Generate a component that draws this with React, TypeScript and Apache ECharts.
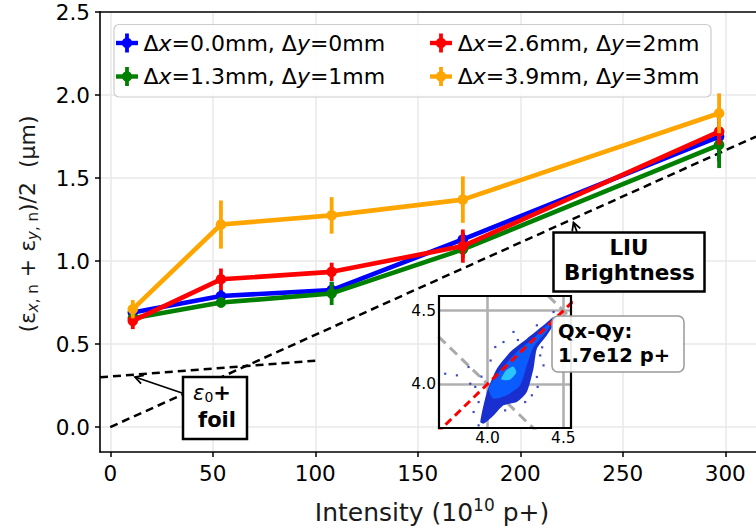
import React, { useEffect, useRef } from 'react';
import * as echarts from 'echarts';

// ---------------- data ----------------
const intensity = [11, 54, 108, 172, 297];

const blueVals = [0.69, 0.79, 0.825, 1.13, 1.75];
const blueErr = [0.03, 0.04, 0.05, 0.04, 0.15];
const greenVals = [0.655, 0.75, 0.805, 1.07, 1.7];
const greenErr = [0.03, 0.03, 0.07, 0.05, 0.14];
const redVals = [0.64, 0.89, 0.935, 1.09, 1.78];
const redErr = [0.05, 0.065, 0.055, 0.1, 0.08];
const orangeVals = [0.71, 1.22, 1.275, 1.37, 1.89];
const orangeErr = [0.055, 0.145, 0.11, 0.14, 0.12];

const legendDx = ['0.0', '1.3', '2.6', '3.9'];
const legendDy = ['0', '1', '2', '3'];

// reference lines (intensity, emittance)
const liuLine = [[0, 0.0], [315, 1.75]];
const foilLine = [[-5, 0.3], [100, 0.4]];

// inset (tune diagram Qx-Qy)
const tuneDiagonal = [[3.6, 3.6], [4.7, 4.7]];
const resonanceLow = [[3.6, 4.4], [4.4, 3.6]];
const resonanceHigh = [[4.4, 4.6], [4.6, 4.4]];
const cloudBand = [
  [3.952, 3.741], [3.996, 3.945], [4.062, 4.105], [4.149, 4.218], [4.259, 4.309],
  [4.369, 4.4], [4.435, 4.457], [4.457, 4.445], [4.391, 4.332], [4.325, 4.241],
  [4.303, 4.105], [4.259, 3.945], [4.193, 3.877], [4.105, 3.855], [4.04, 3.786],
  [3.974, 3.73],
];
const cloudCore = [
  [4.007, 3.968], [4.084, 4.093], [4.193, 4.218], [4.325, 4.332], [4.424, 4.434],
  [4.402, 4.377], [4.303, 4.252], [4.259, 4.127], [4.215, 3.991], [4.127, 3.923],
  [4.04, 3.9],
];
const cloudPeak = [[4.09, 4.03], [4.12, 4.09], [4.17, 4.12], [4.19, 4.08], [4.15, 4.03]];
const cloudSpeckle = [
  [3.721, 4.07], [3.798, 4.059], [3.886, 4.002], [3.919, 3.98], [3.875, 4.116],
  [4.051, 4.252], [4.105, 4.286], [4.171, 4.355], [4.325, 4.4], [4.435, 4.491],
  [4.347, 4.195], [4.369, 4.127], [4.325, 4.048], [4.292, 3.923], [3.941, 3.877],
  [3.908, 3.809], [3.941, 3.718], [4.248, 3.877], [4.116, 3.82], [4.02, 4.16],
  [4.2, 4.3], [4.36, 4.25], [3.96, 4.05], [4.33, 3.98],
];

// ---------------- style ----------------
const FONT = 'DejaVu Sans';
const BLUE = '#0000ff';
const GREEN = '#008000';
const RED = '#ff0000';
const ORANGE = '#ffa500';

const groups = [
  { name: 'blue', color: BLUE, vals: blueVals, err: blueErr, dx: legendDx[0], dy: legendDy[0], col: 0, row: 0 },
  { name: 'green', color: GREEN, vals: greenVals, err: greenErr, dx: legendDx[1], dy: legendDy[1], col: 0, row: 1 },
  { name: 'red', color: RED, vals: redVals, err: redErr, dx: legendDx[2], dy: legendDy[2], col: 1, row: 0 },
  { name: 'orange', color: ORANGE, vals: orangeVals, err: orangeErr, dx: legendDx[3], dy: legendDy[3], col: 1, row: 1 },
];

function arrowHead(tail: number[], tip: number[], len = 9, ang = 0.5) {
  const dx = tail[0] - tip[0];
  const dy = tail[1] - tip[1];
  const d = Math.hypot(dx, dy);
  const ux = dx / d;
  const uy = dy / d;
  const rot = (a: number) => [
    tip[0] + len * (ux * Math.cos(a) - uy * Math.sin(a)),
    tip[1] + len * (ux * Math.sin(a) + uy * Math.cos(a)),
  ];
  return [rot(ang), tip, rot(-ang)];
}

function buildOption() {
  const series: any[] = [];

  series.push({
    type: 'line', xAxisIndex: 0, yAxisIndex: 0, data: liuLine, symbol: 'none', silent: true,
    lineStyle: { color: '#000', width: 2.5, type: [8, 5] }, z: 1,
  });
  series.push({
    type: 'line', xAxisIndex: 0, yAxisIndex: 0, data: foilLine, symbol: 'none', silent: true,
    lineStyle: { color: '#000', width: 2.5, type: [8, 5] }, z: 1,
  });

  groups.forEach((g, gi) => {
    series.push({
      type: 'custom', xAxisIndex: 0, yAxisIndex: 0, silent: true, z: 2 + gi,
      data: intensity.map((x, i) => [x, g.vals[i] - g.err[i], g.vals[i] + g.err[i]]),
      encode: { x: 0, y: [1, 2] },
      renderItem: (params: any, api: any) => {
        const p1 = api.coord([api.value(0), api.value(1)]);
        const p2 = api.coord([api.value(0), api.value(2)]);
        return {
          type: 'line',
          shape: { x1: p1[0], y1: p1[1], x2: p2[0], y2: p2[1] },
          style: { stroke: g.color, lineWidth: 3.8 },
        };
      },
    });
    series.push({
      type: 'line', name: g.name, xAxisIndex: 0, yAxisIndex: 0, z: 2 + gi,
      data: intensity.map((x, i) => [x, g.vals[i]]),
      symbol: 'circle', symbolSize: 10.5, showSymbol: true,
      lineStyle: { color: g.color, width: 4.6 },
      itemStyle: { color: g.color },
    });
  });

  // inset
  const polyItem = (pts: number[][], fill: string, api: any) => ({
    type: 'polygon',
    shape: { points: pts.map((p) => api.coord(p)), smooth: 0.2 },
    style: { fill },
  });
  series.push({
    type: 'custom', xAxisIndex: 1, yAxisIndex: 1, silent: true, z: 6,
    data: [[4.1, 4.1]],
    renderItem: (params: any, api: any) => ({
      type: 'group',
      children: [
        polyItem(cloudBand, '#1a2fd0', api),
        polyItem(cloudCore, '#0a5cff', api),
        polyItem(cloudPeak, '#2cc4ff', api),
      ],
    }),
  });
  series.push({
    type: 'scatter', xAxisIndex: 1, yAxisIndex: 1, silent: true, z: 6,
    data: cloudSpeckle, symbol: 'rect', symbolSize: 2.2,
    itemStyle: { color: '#1020b0' },
  });
  series.push({
    type: 'line', xAxisIndex: 1, yAxisIndex: 1, data: resonanceLow, symbol: 'none', silent: true, z: 5,
    lineStyle: { color: '#aaaaaa', width: 3, type: [10, 6] },
  });
  series.push({
    type: 'line', xAxisIndex: 1, yAxisIndex: 1, data: resonanceHigh, symbol: 'none', silent: true, z: 5,
    lineStyle: { color: '#aaaaaa', width: 3, type: [10, 6] },
  });
  series.push({
    type: 'line', xAxisIndex: 1, yAxisIndex: 1, data: tuneDiagonal, symbol: 'none', silent: true, z: 7,
    lineStyle: { color: '#ff0000', width: 3, type: [8, 5] },
  });

  const tickFont = { fontFamily: FONT, fontSize: 21.5, color: '#000' };

  // graphic elements
  const graphic: any[] = [];
  // legend
  const legX = [127, 441];
  const legTextX = [143.5, 457.7];
  const legY = [43, 76.5];
  graphic.push({
    type: 'rect', z: 50, silent: true,
    shape: { x: 114, y: 24.5, width: 597, height: 72.5, r: 5 },
    style: { fill: 'rgba(255,255,255,0.85)', stroke: '#cccccc', lineWidth: 1.2 },
  });
  groups.forEach((g) => {
    const cx = legX[g.col];
    const cy = legY[g.row];
    graphic.push({
      type: 'line', z: 51, silent: true,
      shape: { x1: cx - 11, y1: cy, x2: cx + 11, y2: cy },
      style: { stroke: g.color, lineWidth: 4.4 },
    });
    graphic.push({
      type: 'line', z: 51, silent: true,
      shape: { x1: cx, y1: cy - 9.5, x2: cx, y2: cy + 9.5 },
      style: { stroke: g.color, lineWidth: 3.8 },
    });
    graphic.push({
      type: 'circle', z: 52, silent: true,
      shape: { cx, cy, r: 5.2 },
      style: { fill: g.color },
    });
    graphic.push({
      type: 'text', z: 52, silent: true, x: legTextX[g.col], y: cy,
      style: {
        text: `Δ{i|x}=${g.dx}mm, Δ{i|y}=${g.dy}mm`,
        fontFamily: FONT, fontSize: 22, fill: '#000', align: 'left', verticalAlign: 'middle',
        rich: { i: { fontFamily: FONT, fontSize: 22, fontStyle: 'italic', fill: '#000' } },
      },
    });
  });

  // y axis title
  graphic.push({
    type: 'text', silent: true, x: 27, y: 224, rotation: Math.PI / 2,
    style: {
      text: '({e|ε}{si|x}{s|,\u00a0n}\u00a0+\u00a0{e|ε}{si|y}{s|,\u00a0n})/2\u00a0\u00a0(μm)',
      fontFamily: FONT, fontSize: 22, fill: '#1a1a1a', align: 'center', verticalAlign: 'middle',
      rich: {
        e: { fontFamily: FONT, fontSize: 22, fill: '#1a1a1a' },
        si: { fontFamily: FONT, fontSize: 15, fontStyle: 'italic', fill: '#1a1a1a', padding: [11, 0, 0, 0] },
        s: { fontFamily: FONT, fontSize: 15, fill: '#1a1a1a', padding: [11, 0, 0, 0] },
      },
    },
  });
  // x axis title
  graphic.push({
    type: 'text', silent: true, x: 432, y: 512,
    style: {
      text: 'Intensity (10{sup|10} p+)',
      fontFamily: FONT, fontSize: 25, fill: '#1a1a1a', align: 'center', verticalAlign: 'middle',
      rich: { sup: { fontFamily: FONT, fontSize: 17, fill: '#1a1a1a', padding: [0, 0, 14, 0] } },
    },
  });

  // epsilon0 + foil annotation
  graphic.push({
    type: 'rect', z: 30, silent: true,
    shape: { x: 183, y: 377, width: 64, height: 62 },
    style: { fill: '#fff', stroke: '#000', lineWidth: 2.5 },
  });
  graphic.push({
    type: 'text', z: 31, silent: true, x: 212, y: 393,
    style: {
      text: '{e|ε}{s|0}{b|+}', fontFamily: FONT, fontSize: 21, fill: '#000', align: 'center', verticalAlign: 'middle',
      rich: {
        e: { fontFamily: FONT, fontSize: 21, fontStyle: 'italic', fill: '#000' },
        s: { fontFamily: FONT, fontSize: 14, fill: '#000', padding: [8, 0, 0, 0] },
        b: { fontFamily: FONT, fontSize: 21, fontWeight: 'bold', fill: '#000' },
      },
    },
  });
  graphic.push({
    type: 'text', z: 31, silent: true, x: 217, y: 420,
    style: { text: 'foil', fontFamily: FONT, fontSize: 21, fontWeight: 'bold', fill: '#000', align: 'center', verticalAlign: 'middle' },
  });
  const foilTail = [182, 393];
  const foilTip = [135, 377];
  graphic.push({
    type: 'line', z: 29, silent: true,
    shape: { x1: foilTail[0], y1: foilTail[1], x2: foilTip[0], y2: foilTip[1] },
    style: { stroke: '#000', lineWidth: 1.8 },
  });
  graphic.push({
    type: 'polyline', z: 29, silent: true,
    shape: { points: arrowHead(foilTail, foilTip) },
    style: { stroke: '#000', lineWidth: 1.8, fill: null },
  });

  // LIU Brightness annotation
  graphic.push({
    type: 'rect', z: 30, silent: true,
    shape: { x: 553.5, y: 232.5, width: 151, height: 59 },
    style: { fill: '#fff', stroke: '#000', lineWidth: 2.5 },
  });
  graphic.push({
    type: 'text', z: 31, silent: true, x: 629, y: 247,
    style: { text: 'LIU', fontFamily: FONT, fontSize: 21.5, fontWeight: 'bold', fill: '#000', align: 'center', verticalAlign: 'middle' },
  });
  graphic.push({
    type: 'text', z: 31, silent: true, x: 629.5, y: 272,
    style: { text: 'Brightness', fontFamily: FONT, fontSize: 21.5, fontWeight: 'bold', fill: '#000', align: 'center', verticalAlign: 'middle' },
  });
  const liuTail = [577, 232];
  const liuTip = [573.5, 222.5];
  graphic.push({
    type: 'line', z: 29, silent: true,
    shape: { x1: liuTail[0], y1: liuTail[1], x2: liuTip[0], y2: liuTip[1] },
    style: { stroke: '#000', lineWidth: 1.8 },
  });
  graphic.push({
    type: 'polyline', z: 29, silent: true,
    shape: { points: arrowHead(liuTail, liuTip) },
    style: { stroke: '#000', lineWidth: 1.8, fill: null },
  });

  // inset frame
  graphic.push({
    type: 'rect', z: 40, silent: true,
    shape: { x: 439, y: 296, width: 132, height: 132 },
    style: { fill: null, stroke: '#000', lineWidth: 2.2 },
  });
  // Qx-Qy box
  graphic.push({
    type: 'rect', z: 45, silent: true,
    shape: { x: 552, y: 316, width: 132, height: 56, r: 6 },
    style: { fill: 'rgba(255,255,255,0.92)', stroke: '#999999', lineWidth: 1.5 },
  });
  graphic.push({
    type: 'text', z: 46, silent: true, x: 558, y: 343.5,
    style: {
      text: 'Qx-Qy:\n1.7e12 p+', fontFamily: FONT, fontSize: 19.5, fontWeight: 'bold', fill: '#000',
      align: 'left', verticalAlign: 'middle', lineHeight: 23.5,
    },
  });

  return {
    animation: false,
    backgroundColor: '#ffffff',
    grid: [
      { left: 100, top: 12, width: 663, height: 440, containLabel: false },
      { left: 439, top: 296, width: 132, height: 132, show: true, backgroundColor: '#ffffff', borderWidth: 0, z: 3 },
    ],
    xAxis: [
      {
        type: 'value', gridIndex: 0, min: -5, max: 315, splitNumber: 5, z: 1,
        axisLine: { show: true, onZero: false, lineStyle: { color: '#000', width: 1.6 } },
        axisTick: { show: true, length: 5, lineStyle: { color: '#000', width: 1.5 } },
        axisLabel: { ...tickFont, margin: 10, showMinLabel: false, showMaxLabel: false },
        splitLine: { show: true, showMinLine: false, showMaxLine: false, lineStyle: { color: '#e8e8e8', width: 1.5 } },
      },
      {
        type: 'value', gridIndex: 1, min: 3.68, max: 4.55, splitNumber: 2, z: 4,
        axisLine: { show: false },
        axisTick: { show: false },
        axisLabel: { fontFamily: FONT, fontSize: 15.5, color: '#000', margin: 2, showMinLabel: false, showMaxLabel: false, formatter: (v: number) => v.toFixed(1) },
        splitLine: { show: true, showMinLine: false, showMaxLine: false, lineStyle: { color: '#b0b0b0', width: 2.6 } },
      },
      {
        type: 'value', gridIndex: 0, min: -5, max: 315, position: 'top', z: 1,
        axisLine: { show: true, onZero: false, lineStyle: { color: '#000', width: 1.6 } },
        axisTick: { show: false }, axisLabel: { show: false }, splitLine: { show: false },
      },
    ],
    yAxis: [
      {
        type: 'value', gridIndex: 0, min: -0.15, max: 2.5, splitNumber: 5, z: 1,
        axisLine: { show: true, onZero: false, lineStyle: { color: '#000', width: 1.6 } },
        axisTick: { show: true, length: 5, lineStyle: { color: '#000', width: 1.5 } },
        axisLabel: { ...tickFont, margin: 10, showMinLabel: false, formatter: (v: number) => v.toFixed(1) },
        splitLine: { show: true, showMinLine: false, showMaxLine: false, lineStyle: { color: '#e8e8e8', width: 1.5 } },
      },
      {
        type: 'value', gridIndex: 1, min: 3.7, max: 4.6, splitNumber: 2, z: 4,
        axisLine: { show: false },
        axisTick: { show: false },
        axisLabel: { fontFamily: FONT, fontSize: 15.5, color: '#000', margin: 3, showMinLabel: false, showMaxLabel: false, formatter: (v: number) => v.toFixed(1) },
        splitLine: { show: true, showMinLine: false, showMaxLine: false, lineStyle: { color: '#b0b0b0', width: 2.6 } },
      },
    ],
    series,
    graphic,
  };
}

export default function App() {
  const ref = useRef<HTMLDivElement>(null);
  useEffect(() => {
    if (!ref.current) return;
    const chart = echarts.init(ref.current, null, { renderer: 'svg' });
    chart.setOption(buildOption() as any);
    return () => chart.dispose();
  }, []);
  return <div ref={ref} style={{ position: 'fixed', left: 0, top: 0, width: 756, height: 530 }} />;
}
